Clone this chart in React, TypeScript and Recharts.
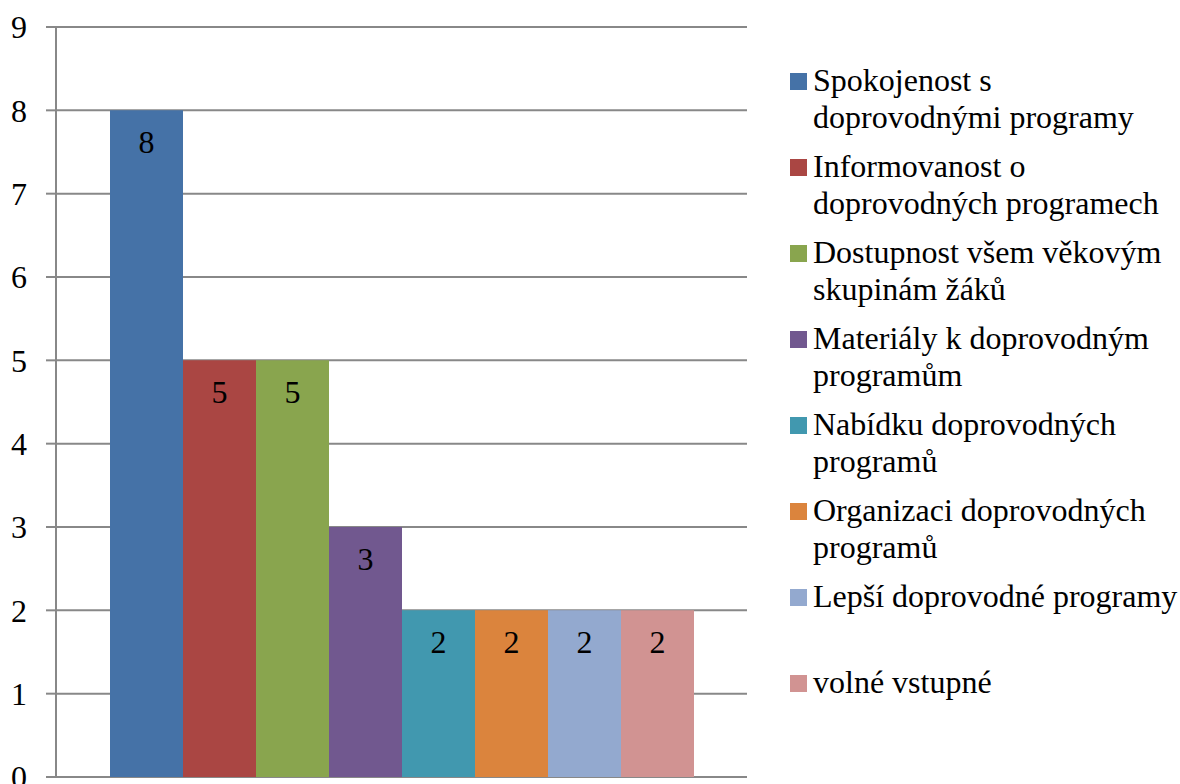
import React from 'react';
import { BarChart, Bar, XAxis, YAxis, CartesianGrid, Legend, LabelList } from 'recharts';

const seriesNames: string[] = [
  'Spokojenost s doprovodnými programy',
  'Informovanost o doprovodných programech',
  'Dostupnost všem věkovým skupinám žáků',
  'Materiály k doprovodným programům',
  'Nabídku doprovodných programů',
  'Organizaci doprovodných programů',
  'Lepší doprovodné programy',
  'volné vstupné',
];
const seriesValues: number[] = [8, 5, 5, 3, 2, 2, 2, 2];
const seriesColors: string[] = ['#4572A7', '#AA4643', '#89A54E', '#71588F', '#4198AF', '#DB843D', '#93A9CF', '#D19392'];
const yTicks: number[] = [0, 1, 2, 3, 4, 5, 6, 7, 8, 9];
const categories: string[] = ['Hodnocení'];

const keys = seriesNames.map((_, i) => `s${i}`);
const data = categories.map((c) => {
  const row: Record<string, string | number> = { name: c };
  keys.forEach((k, i) => {
    row[k] = seriesValues[i];
  });
  return row;
});

const FONT = 'Liberation Serif';

const LegendContent = () => (
  <div style={{ fontFamily: FONT, fontSize: 32, lineHeight: '37px', color: '#000' }}>
    {seriesNames.map((n, i) => (
      <div key={n} style={{ display: 'flex', alignItems: 'flex-start', height: 86 }}>
        <div style={{ width: 17, height: 17, background: seriesColors[i], marginTop: 11, marginRight: 6, flex: 'none' }} />
        <div style={{ width: 368 }}>{n}</div>
      </div>
    ))}
  </div>
);

export default function App() {
  return (
    <div style={{ position: 'absolute', left: 0, top: 0, background: '#fff' }}>
      <BarChart
        width={1180}
        height={784}
        data={data}
        margin={{ top: 27, right: 43, bottom: 7, left: 0 }}
        barGap={0}
        barCategoryGap={54}
      >
        <CartesianGrid vertical={false} stroke="#888888" strokeWidth={2} />
        <XAxis dataKey="name" hide />
        <YAxis
          width={56}
          domain={[0, 9]}
          ticks={yTicks}
          interval={0}
          tickSize={10}
          tickMargin={19}
          axisLine={{ stroke: '#888888', strokeWidth: 2 }}
          tickLine={{ stroke: '#888888', strokeWidth: 2 }}
          tick={{ fill: '#000', fontSize: 32, fontFamily: FONT }}
        />
        <Legend
          layout="vertical"
          verticalAlign="top"
          align="right"
          content={<LegendContent />}
          wrapperStyle={{ left: 790, top: 62, width: 390 }}
        />
        {keys.map((k, i) => (
          <Bar key={k} dataKey={k} name={seriesNames[i]} fill={seriesColors[i]} isAnimationActive={false}>
            <LabelList dataKey={k} position="insideTop" offset={20} fill="#000" fontSize={32} fontFamily={FONT} />
          </Bar>
        ))}
      </BarChart>
    </div>
  );
}
